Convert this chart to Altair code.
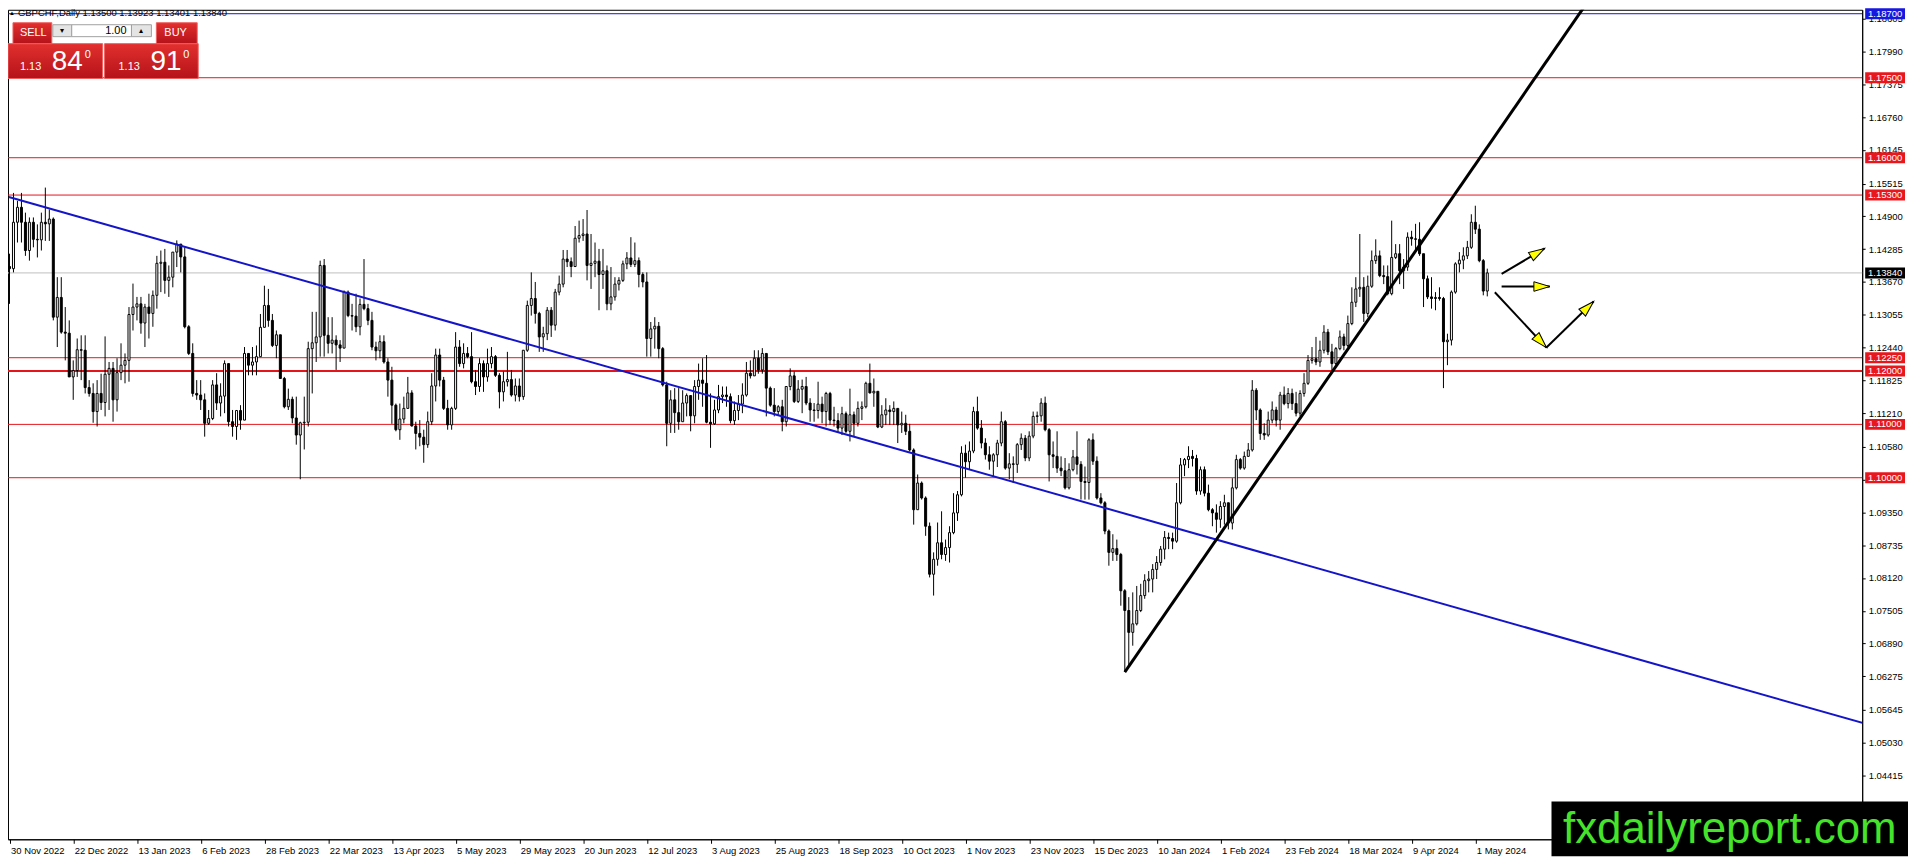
import math

import altair as alt
import pandas as pd

# GBPCHF daily candles, prices x 10000.
# A candle opens where the previous one closed.
FIRST_OPEN = 11396

closes = [
    11392, 11479, 11507, 11479, 11426, 11479, 11447, 11446, 11479, 11476, 11485, 11301, 11338, 11273, 11271, 11189, 11201, 11240, 11239, 11169,
    11158, 11124, 11158, 11141, 11194, 11205, 11146, 11197, 11211, 11220, 11306, 11320, 11326, 11290, 11320, 11308, 11342, 11402, 11404, 11370,
    11376, 11423, 11438, 11414, 11283, 11233, 11158, 11155, 11146, 11102, 11111, 11174, 11140, 11153, 11214, 11105, 11096, 11126, 11108, 11233,
    11211, 11217, 11227, 11282, 11323, 11295, 11248, 11268, 11186, 11133, 11147, 11112, 11080, 11103, 11104, 11242, 11253, 11264, 11398, 11267,
    11252, 11258, 11249, 11243, 11348, 11304, 11303, 11283, 11325, 11317, 11295, 11245, 11238, 11255, 11217, 11183, 11136, 11090, 11110, 11130,
    11159, 11097, 11083, 11076, 11062, 11105, 11172, 11230, 11183, 11130, 11099, 11130, 11245, 11214, 11233, 11227, 11180, 11171, 11214, 11189,
    11214, 11227, 11192, 11161, 11180, 11184, 11155, 11172, 11152, 11239, 11323, 11336, 11308, 11264, 11270, 11314, 11286, 11348, 11363, 11410,
    11405, 11396, 11449, 11454, 11457, 11398, 11402, 11406, 11381, 11388, 11326, 11339, 11363, 11370, 11401, 11412, 11400, 11407, 11381, 11367,
    11261, 11279, 11284, 11242, 11174, 11102, 11146, 11122, 11105, 11140, 11154, 11116, 11171, 11183, 11177, 11104, 11101, 11127, 11152, 11155,
    11152, 11107, 11126, 11138, 11155, 11196, 11191, 11224, 11202, 11233, 11168, 11136, 11124, 11133, 11105, 11171, 11191, 11143, 11166, 11171,
    11140, 11127, 11126, 11138, 11124, 11158, 11108, 11107, 11093, 11120, 11087, 11118, 11102, 11130, 11133, 11177, 11159, 11162, 11095, 11118,
    11127, 11124, 11130, 11099, 11102, 11087, 11052, 10940, 10990, 10962, 10909, 10819, 10847, 10878, 10856, 10869, 10897, 10934, 10968, 11046,
    11030, 11050, 11124, 11093, 11065, 11043, 11031, 11043, 11065, 11105, 11018, 11026, 11025, 11062, 11074, 11037, 11078, 11115, 11116, 11140,
    11090, 11043, 11040, 11018, 11013, 10981, 11015, 11039, 11025, 10993, 10991, 11071, 11031, 10962, 10953, 10900, 10860, 10867, 10856, 10788,
    10751, 10710, 10726, 10751, 10779, 10807, 10810, 10828, 10841, 10866, 10888, 10886, 10881, 10953, 11024, 11034, 11040, 11036, 10975, 11015,
    10971, 10940, 10934, 10922, 10946, 10953, 10915, 10981, 11034, 11018, 11040, 11052, 11164, 11127, 11083, 11080, 11108, 11127, 11108, 11155,
    11139, 11158, 11139, 11121, 11158, 11177, 11220, 11223, 11217, 11239, 11273, 11236, 11214, 11242, 11264, 11248, 11289, 11329, 11354, 11357,
    11308, 11359, 11407, 11416, 11379, 11377, 11345, 11413, 11420, 11388, 11395, 11451, 11448, 11447, 11420, 11373, 11339, 11336, 11338, 11336,
    11255, 11258, 11348, 11401, 11408, 11416, 11432, 11479, 11466, 11407, 11350, 11384,
]

highs = [
    11420, 11534, 11519, 11534, 11497, 11488, 11488, 11475, 11497, 11544, 11503, 11488, 11376, 11376, 11320, 11295, 11220, 11261, 11267, 11267,
    11183, 11177, 11183, 11195, 11265, 11217, 11217, 11224, 11252, 11233, 11320, 11364, 11339, 11339, 11326, 11345, 11351, 11416, 11426, 11429,
    11398, 11423, 11445, 11432, 11432, 11286, 11252, 11183, 11183, 11158, 11127, 11183, 11196, 11177, 11220, 11211, 11127, 11127, 11136, 11245,
    11233, 11245, 11248, 11307, 11360, 11354, 11307, 11276, 11267, 11189, 11167, 11152, 11152, 11105, 11152, 11255, 11311, 11311, 11407, 11410,
    11301, 11301, 11267, 11258, 11351, 11351, 11326, 11345, 11336, 11410, 11326, 11311, 11255, 11267, 11267, 11224, 11208, 11139, 11139, 11152,
    11189, 11164, 11105, 11108, 11090, 11124, 11196, 11242, 11242, 11189, 11146, 11133, 11273, 11258, 11252, 11245, 11273, 11202, 11224, 11220,
    11242, 11245, 11230, 11196, 11199, 11236, 11202, 11186, 11186, 11239, 11332, 11385, 11367, 11311, 11283, 11320, 11320, 11354, 11379, 11427,
    11427, 11413, 11472, 11482, 11485, 11502, 11457, 11441, 11429, 11429, 11398, 11395, 11376, 11376, 11407, 11423, 11451, 11441, 11413, 11385,
    11385, 11292, 11301, 11292, 11245, 11180, 11164, 11168, 11168, 11164, 11158, 11146, 11183, 11214, 11224, 11230, 11158, 11146, 11174, 11171,
    11171, 11158, 11143, 11155, 11177, 11217, 11220, 11239, 11239, 11243, 11220, 11171, 11168, 11136, 11146, 11171, 11205, 11199, 11183, 11184,
    11189, 11149, 11140, 11180, 11152, 11161, 11161, 11133, 11121, 11133, 11124, 11167, 11124, 11143, 11143, 11180, 11214, 11186, 11158, 11136,
    11149, 11136, 11143, 11121, 11124, 11118, 11101, 11055, 11006, 10993, 10965, 10916, 10860, 10916, 10937, 10884, 10909, 10971, 10975, 11059,
    11062, 11068, 11133, 11152, 11108, 11074, 11059, 11046, 11071, 11124, 11108, 11046, 11040, 11065, 11083, 11080, 11087, 11124, 11124, 11149,
    11152, 11093, 11068, 11087, 11040, 11037, 11027, 11052, 11087, 11031, 11021, 11074, 11083, 11040, 10971, 10956, 10903, 10894, 10884, 10859,
    10791, 10776, 10785, 10797, 10801, 10819, 10825, 10838, 10853, 10872, 10900, 10897, 10897, 10990, 11037, 11037, 11059, 11052, 11043, 11021,
    11021, 10987, 10943, 10950, 10956, 10968, 10953, 10999, 11043, 11037, 11049, 11065, 11183, 11168, 11130, 11102, 11124, 11143, 11133, 11161,
    11171, 11168, 11167, 11161, 11164, 11196, 11230, 11245, 11264, 11257, 11286, 11279, 11251, 11245, 11276, 11270, 11304, 11357, 11376, 11457,
    11376, 11379, 11426, 11447, 11426, 11398, 11398, 11482, 11438, 11438, 11410, 11460, 11463, 11476, 11479, 11419, 11379, 11376, 11348, 11357,
    11339, 11270, 11351, 11404, 11423, 11432, 11444, 11494, 11510, 11475, 11410, 11392,
]

lows = [
    11326, 11385, 11441, 11441, 11416, 11407, 11432, 11413, 11426, 11444, 11444, 11295, 11245, 11270, 11220, 11189, 11146, 11189, 11183, 11158,
    11152, 11103, 11096, 11127, 11115, 11127, 11105, 11124, 11183, 11177, 11180, 11276, 11295, 11270, 11245, 11261, 11283, 11317, 11348, 11345,
    11339, 11357, 11395, 11385, 11280, 11230, 11152, 11146, 11127, 11077, 11099, 11108, 11127, 11115, 11121, 11096, 11077, 11071, 11090, 11108,
    11192, 11192, 11192, 11229, 11282, 11283, 11245, 11224, 11186, 11130, 11127, 11102, 11062, 10997, 11053, 11096, 11158, 11217, 11227, 11227,
    11233, 11233, 11202, 11217, 11243, 11301, 11276, 11273, 11267, 11314, 11286, 11239, 11220, 11224, 11214, 11152, 11101, 11087, 11071, 11102,
    11130, 11096, 11053, 11059, 11028, 11056, 11099, 11143, 11171, 11127, 11090, 11090, 11127, 11208, 11205, 11224, 11177, 11155, 11161, 11161,
    11180, 11205, 11189, 11130, 11143, 11171, 11152, 11143, 11143, 11146, 11236, 11304, 11289, 11236, 11236, 11258, 11264, 11276, 11342, 11357,
    11395, 11376, 11395, 11441, 11444, 11370, 11354, 11376, 11314, 11354, 11314, 11314, 11332, 11351, 11367, 11391, 11395, 11395, 11357, 11357,
    11227, 11227, 11242, 11224, 11171, 11059, 11084, 11084, 11090, 11133, 11115, 11087, 11102, 11146, 11133, 11102, 11056, 11099, 11121, 11140,
    11133, 11102, 11099, 11108, 11121, 11152, 11186, 11195, 11195, 11195, 11115, 11133, 11115, 11118, 11087, 11096, 11164, 11140, 11140, 11121,
    11136, 11105, 11105, 11111, 11102, 11096, 11099, 11096, 11084, 11080, 11084, 11068, 11077, 11096, 11108, 11130, 11158, 11133, 11093, 11093,
    11099, 11099, 11099, 11065, 11084, 11080, 11049, 10912, 10940, 10959, 10891, 10813, 10779, 10835, 10847, 10844, 10841, 10894, 10919, 10965,
    11000, 11015, 11046, 11090, 11055, 11034, 11015, 11003, 11020, 11059, 11015, 10997, 10990, 11009, 11052, 11031, 11031, 11074, 11102, 11105,
    11087, 10993, 11018, 11009, 11003, 10978, 10978, 11012, 11006, 10959, 10959, 10959, 11024, 10959, 10950, 10894, 10835, 10844, 10844, 10760,
    10636, 10648, 10685, 10723, 10748, 10773, 10785, 10785, 10810, 10835, 10847, 10866, 10866, 10878, 10950, 11003, 11018, 11021, 10968, 10968,
    10965, 10937, 10909, 10897, 10906, 10912, 10903, 10903, 10978, 11015, 11015, 11040, 11049, 11108, 11071, 11071, 11077, 11102, 11096, 11090,
    11136, 11130, 11127, 11115, 11115, 11152, 11174, 11214, 11211, 11208, 11233, 11230, 11199, 11211, 11239, 11239, 11245, 11286, 11320, 11339,
    11292, 11301, 11356, 11401, 11376, 11363, 11342, 11342, 11410, 11363, 11354, 11388, 11435, 11426, 11416, 11320, 11335, 11317, 11314, 11332,
    11168, 11211, 11248, 11345, 11385, 11391, 11410, 11429, 11457, 11404, 11342, 11340,
]

date_labels = [
    "30 Nov 2022", "22 Dec 2022", "13 Jan 2023", "6 Feb 2023", "28 Feb 2023", "22 Mar 2023",
    "13 Apr 2023", "5 May 2023", "29 May 2023", "20 Jun 2023", "12 Jul 2023", "3 Aug 2023",
    "25 Aug 2023", "18 Sep 2023", "10 Oct 2023", "1 Nov 2023", "23 Nov 2023", "15 Dec 2023",
    "10 Jan 2024", "1 Feb 2024", "23 Feb 2024", "18 Mar 2024", "9 Apr 2024", "1 May 2024",
]
LABEL_EVERY = 16

price_ticks = [
    1.18605, 1.17990, 1.17375, 1.16760, 1.16145, 1.15515, 1.14900, 1.14285, 1.13670, 1.13055,
    1.12440, 1.11825, 1.11210, 1.10580, 1.09965, 1.09350, 1.08735, 1.08120, 1.07505, 1.06890,
    1.06275, 1.05645, 1.05030, 1.04415,
]

red_levels = [1.17500, 1.16000, 1.15300, 1.12250, 1.11000, 1.10000]
strong_levels = [1.12000]
blue_levels = [1.18700]
last_price = [1.13840]
header = "GBPCHF,Daily  1.13500 1.13923 1.13401 1.13840"

down_trend_bars = [-0.15, 466.7]
down_trend_prices = [1.15265, 1.05370]
up_trend_bars = [280.0, 396.2]
up_trend_prices = [1.06354, 1.18924]

arrow_start_bars = [374.6, 374.6, 372.9, 385.85]
arrow_start_prices = [1.13821, 1.13585, 1.13478, 1.12440]
arrow_end_bars = [385.4, 386.7, 385.85, 397.7]
arrow_end_prices = [1.14299, 1.13585, 1.12440, 1.13304]

# layout
PLOT_W = 1862
PLOT_H = 833
PX_PER_BAR = 4
X_DOMAIN = [-0.375, -0.375 + PLOT_W / PX_PER_BAR]
Y_DOMAIN = [1.03220, 1.18774]
PX_PER_PRICE = PLOT_H / (Y_DOMAIN[1] - Y_DOMAIN[0])
TAG_X = PLOT_W + 23

FONT = "Liberation Sans"
RED = "#E3161B"
BLUE = "#1414C8"
YELLOW = "#FFFF00"
HEAD_PATH = "M0,0L-0.3,1L0.3,1Z"

x_scale = alt.Scale(domain=X_DOMAIN, nice=False, zero=False)
y_scale = alt.Scale(domain=Y_DOMAIN, nice=False, zero=False)

label_js = "[" + ",".join(f"'{d}'" for d in date_labels) + "]"
x_axis = alt.Axis(
    values=list(range(0, LABEL_EVERY * len(date_labels), LABEL_EVERY)),
    labelExpr=f"{label_js}[round(datum.value / {LABEL_EVERY})]",
    labelAlign="left", labelOffset=1, labelPadding=2, labelFlush=False,
    labelOverlap=False, tickSize=4)
y_axis = alt.Axis(
    orient="right", values=price_ticks, format=".5f",
    tickSize=3, labelPadding=3, labelOverlap=False, labelFlush=False)


def xq(field):
    return alt.X(field, type="quantitative", scale=x_scale, axis=x_axis, title=None)


def yq(field):
    return alt.Y(field, type="quantitative", scale=y_scale, axis=y_axis, title=None)


# candles
opens = [FIRST_OPEN] + closes[:-1]
candles = pd.DataFrame({
    "bar": list(range(len(closes))),
    "open": [v / 10000 for v in opens],
    "high": [v / 10000 for v in highs],
    "low": [v / 10000 for v in lows],
    "close": [v / 10000 for v in closes],
})
candles["dir"] = ["up" if c >= o else "down" for o, c in zip(opens, closes)]
candles["left"] = candles["bar"] - 1 / PX_PER_BAR
candles["right"] = candles["bar"] + 1 / PX_PER_BAR

wicks = alt.Chart(candles).mark_rule(color="black", strokeWidth=1).encode(
    x=xq("bar"), y=yq("low"), y2="high:Q",
)

bodies = alt.Chart(candles).mark_rect(stroke="black", strokeWidth=1).encode(
    x=xq("left"), x2="right:Q",
    y=yq("open"), y2="close:Q",
    fill=alt.Fill("dir:N", scale=alt.Scale(domain=["up", "down"], range=["white", "black"]),
                  legend=None),
)


def level_rules(prices, color, width):
    return alt.Chart(pd.DataFrame({"price": prices})).mark_rule(
        color=color, strokeWidth=width).encode(y=yq("price"))


def trend_line(bars, prices, color, width):
    return alt.Chart(pd.DataFrame({"bar": bars, "price": prices})).mark_line(
        color=color, strokeWidth=width, clip=True).encode(x=xq("bar"), y=yq("price"))


# arrows
arrows = pd.DataFrame({
    "x0": arrow_start_bars, "y0": arrow_start_prices,
    "x1": arrow_end_bars, "y1": arrow_end_prices,
})
arrows["angle"] = [
    math.degrees(math.atan2((b - a) * PX_PER_BAR, (q - p) * PX_PER_PRICE)) % 360
    for a, p, b, q in zip(arrow_start_bars, arrow_start_prices, arrow_end_bars, arrow_end_prices)
]

shafts = alt.Chart(arrows).mark_rule(color="black", strokeWidth=2).encode(
    x=xq("x0"), x2="x1:Q", y=yq("y0"), y2="y1:Q",
)
heads = alt.Chart(arrows).mark_point(
    shape=HEAD_PATH, size=1024, filled=True, fill=YELLOW, stroke="black",
    strokeWidth=1, opacity=1, fillOpacity=1, strokeOpacity=1).encode(
    x=xq("x1"), y=yq("y1"),
    angle=alt.Angle("angle:Q", scale=None),
)

# price tags on the right axis
tag_prices = blue_levels + red_levels + strong_levels + last_price
tag_colors = ["#1717E0"] + ["#E8171C"] * (len(red_levels) + len(strong_levels)) + ["#000000"]
tags = pd.DataFrame({
    "price": tag_prices,
    "label": [f"{p:.5f}" for p in tag_prices],
    "fill": tag_colors,
})
tag_boxes = alt.Chart(tags).mark_tick(orient="horizontal", thickness=11, size=40, opacity=1).encode(
    x=alt.value(TAG_X),
    y=yq("price"),
    color=alt.Color("fill:N", scale=None),
)
tag_text = alt.Chart(tags).mark_text(
    color="white", font=FONT, fontSize=9.5, align="center", baseline="middle").encode(
    x=alt.value(TAG_X),
    y=yq("price"),
    text="label:N",
)

# one-click trading panel and header
one = pd.DataFrame({"k": [0]})
RED_FILL = alt.Gradient(
    gradient="linear", x1=0, x2=0, y1=0, y2=1,
    stops=[alt.GradientStop(color="#E2302E", offset=0),
           alt.GradientStop(color="#B5121A", offset=1)])


def box(x0, y0, x1, y1, **style):
    return alt.Chart(one).mark_rect(**style).encode(
        x=alt.value(x0), x2=alt.value(x1), y=alt.value(y0), y2=alt.value(y1))


def label(x, y, text, size, color="black", align="left", baseline="middle"):
    return alt.Chart(one).mark_text(
        text=text, font=FONT, fontSize=size, color=color, align=align, baseline=baseline
    ).encode(x=alt.value(x), y=alt.value(y))


panel = [
    box(0, 34, 95, 69, fill=RED_FILL, stroke="#F06060", strokeWidth=1),
    box(97, 34, 191, 69, fill=RED_FILL, stroke="#F06060", strokeWidth=1),
    box(5, 13, 44, 34, fill=RED_FILL, stroke="#F06060", strokeWidth=1),
    box(149, 13, 190, 34, fill=RED_FILL, stroke="#F06060", strokeWidth=1),
    box(45, 15, 64, 27, fill="#E4E4E4", stroke="#A0A0A0", strokeWidth=1),
    box(64, 15, 124, 27, fill="white", stroke="#A0A0A0", strokeWidth=1),
    box(124, 15, 144, 27, fill="#E4E4E4", stroke="#A0A0A0", strokeWidth=1),
    label(12, 23, "SELL", 11, "white"),
    label(157, 23, "BUY", 11, "white"),
    label(119, 21.5, "1.00", 11, "black", align="right"),
    label(54.5, 21, "▾", 8, "black", align="center"),
    label(134, 21, "▴", 8, "black", align="center"),
    label(12, 60.5, "1.13", 11, "white", baseline="alphabetic"),
    label(44, 60.5, "84", 28, "white", baseline="alphabetic"),
    label(77, 48, "0", 11, "white", baseline="alphabetic"),
    label(111, 60.5, "1.13", 11, "white", baseline="alphabetic"),
    label(143, 60.5, "91", 28, "white", baseline="alphabetic"),
    label(176, 48, "0", 11, "white", baseline="alphabetic"),
    label(1, 3.5, "▲", 6, "black"),
    label(10, 3.5, header, 9.5, "black"),
]

watermark = [
    box(1550, 795, 1908, 850, fill="black"),
    label(1729, 837, "fxdailyreport.com", 44, "#45E42B", align="center", baseline="alphabetic"),
]

layers = [
    level_rules(red_levels, RED, 1),
    level_rules(strong_levels, RED, 2),
    level_rules(blue_levels, BLUE, 1),
    level_rules(last_price, "#C0C0C0", 1),
    wicks,
    bodies,
    trend_line(down_trend_bars, down_trend_prices, BLUE, 2),
    trend_line(up_trend_bars, up_trend_prices, "black", 3),
    shafts,
    heads,
    tag_boxes,
    tag_text,
] + panel + watermark

chart = alt.layer(*layers).properties(
    width=PLOT_W,
    height=PLOT_H,
    autosize=alt.AutoSizeParams(type="none"),
    padding={"left": 0, "top": 0, "right": 46, "bottom": 17},
).configure_view(
    stroke="black", strokeWidth=1
).configure_axis(
    grid=False, labelFont=FONT, labelFontSize=9.5, labelColor="black",
    tickColor="black", domainColor="black", labelOverlap=False,
)

chart.save("out.html", embed_options={"renderer": "svg", "actions": False})
